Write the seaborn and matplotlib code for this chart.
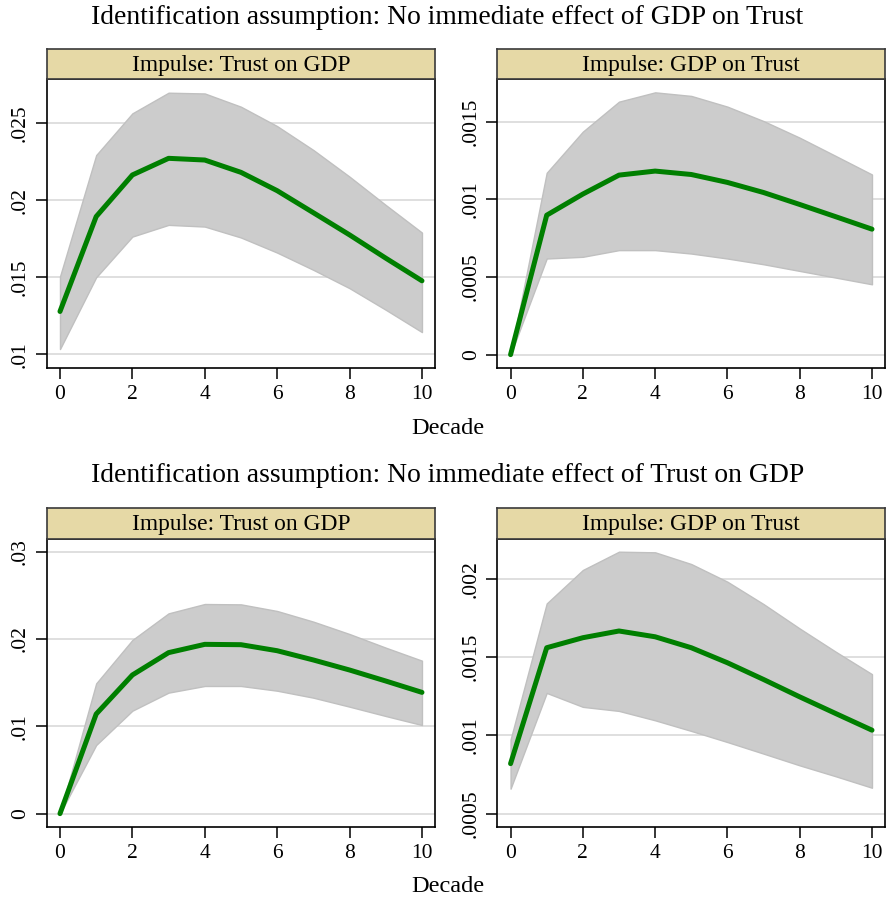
import numpy as np
import pandas as pd
import matplotlib
matplotlib.use("Agg")
import matplotlib.pyplot as plt
import seaborn as sns

sns.set_style("white")
plt.rcParams['font.family'] = ['Liberation Serif', 'DejaVu Serif']
plt.rcParams['text.color'] = 'black'
plt.rcParams['axes.labelcolor'] = 'black'
plt.rcParams['xtick.color'] = 'black'
plt.rcParams['ytick.color'] = 'black'

decade = list(range(11))

# Top row: No immediate effect of GDP on Trust
p1_irf = [0.01279, 0.01895, 0.02165, 0.02273, 0.02262, 0.02182, 0.02063, 0.01920, 0.01776, 0.01625, 0.01478]
p1_hi  = [0.01506, 0.02294, 0.02565, 0.02699, 0.02694, 0.02608, 0.02482, 0.02327, 0.02154, 0.01970, 0.01791]
p1_lo  = [0.01035, 0.01501, 0.01765, 0.01841, 0.01830, 0.01759, 0.01661, 0.01549, 0.01430, 0.01290, 0.01145]

p2_irf = [0.0, 0.000898, 0.001034, 0.001156, 0.001182, 0.001160, 0.001109, 0.001044, 0.000967, 0.000888, 0.000808]
p2_hi  = [0.0, 0.001171, 0.001436, 0.001629, 0.001689, 0.001666, 0.001597, 0.001504, 0.001397, 0.001279, 0.001160]
p2_lo  = [0.0, 0.000619, 0.000630, 0.000673, 0.000673, 0.000651, 0.000619, 0.000582, 0.000539, 0.000496, 0.000453]

# Bottom row: No immediate effect of Trust on GDP
p3_irf = [0.0, 0.01141, 0.01588, 0.01844, 0.01939, 0.01935, 0.01866, 0.01760, 0.01645, 0.01519, 0.01389]
p3_hi  = [0.0, 0.01492, 0.01989, 0.02294, 0.02401, 0.02397, 0.02321, 0.02199, 0.02057, 0.01901, 0.01752]
p3_lo  = [0.0, 0.00786, 0.01179, 0.01386, 0.01462, 0.01462, 0.01408, 0.01328, 0.01225, 0.01118, 0.01015]

p4_irf = [0.000820, 0.001561, 0.001625, 0.001668, 0.001631, 0.001561, 0.001465, 0.001358, 0.001247, 0.001140, 0.001034]
p4_hi  = [0.000974, 0.001844, 0.002058, 0.002175, 0.002171, 0.002096, 0.001983, 0.001840, 0.001684, 0.001535, 0.001392]
p4_lo  = [0.000660, 0.001272, 0.001183, 0.001157, 0.001097, 0.001029, 0.000958, 0.000884, 0.000809, 0.000739, 0.000666]

row_titles = ["Identification assumption: No immediate effect of GDP on Trust",
              "Identification assumption: No immediate effect of Trust on GDP"]
panel_titles = ["Impulse: Trust on GDP", "Impulse: GDP on Trust"]
xticks = [0, 2, 4, 6, 8, 10]

y_ticks = [
    ([0.01, 0.015, 0.02, 0.025], ['.01', '.015', '.02', '.025']),
    ([0.0, 0.0005, 0.001, 0.0015], ['0', '.0005', '.001', '.0015']),
    ([0.0, 0.01, 0.02, 0.03], ['0', '.01', '.02', '.03']),
    ([0.0005, 0.001, 0.0015, 0.002], ['.0005', '.001', '.0015', '.002']),
]
y_lims = [(0.00912, 0.02786), (-0.000086, 0.001773), (-0.00153, 0.03149), (0.000415, 0.002258)]

series = [(p1_irf, p1_lo, p1_hi), (p2_irf, p2_lo, p2_hi), (p3_irf, p3_lo, p3_hi), (p4_irf, p4_lo, p4_hi)]

W, H = 886, 900
fig = plt.figure(figsize=(W / 100, H / 100), dpi=100)

def fx(px):
    return px / W

def fy(py):
    return 1 - py / H

lefts = [46.7, 497.3]
widths = [388.3, 387.7]
plot_tops = [79.3, 538.7]
plot_bots = [368.0, 827.0]
head_tops = [49.3, 508.3]

green = "#007f00"
band = "#cccccc"
band_edge = "#c0c0c0"
strip = "#e6d9a6"

for r in range(2):
    for c in range(2):
        i = r * 2 + c
        irf, lo, hi = series[i]
        df = pd.DataFrame({"Decade": decade, "irf": irf, "lo": lo, "hi": hi})
        ax = fig.add_axes([fx(lefts[c]), fy(plot_bots[r]), fx(widths[c]),
                           (plot_bots[r] - plot_tops[r]) / H])
        ax.set_axisbelow(True)
        ax.fill_between(df["Decade"], df["lo"], df["hi"], facecolor=band,
                        edgecolor=band_edge, linewidth=1.0, zorder=2)
        sns.lineplot(data=df, x="Decade", y="irf", ax=ax, color=green,
                     linewidth=3.6, zorder=3)
        ax.set_xlim(-0.367, 10.36)
        ax.set_ylim(*y_lims[i])
        ax.set_xticks(xticks)
        ax.set_xticklabels([str(t) for t in xticks])
        ax.set_yticks(y_ticks[i][0])
        ax.set_yticklabels(y_ticks[i][1], rotation=90, va='center')
        ax.set_xlabel("")
        ax.set_ylabel("")
        ax.yaxis.grid(True, color="#dcdcdc", linewidth=1.3)
        ax.xaxis.grid(False)
        ax.tick_params(axis='both', which='both', direction='out', length=8,
                       width=1.1, color='black', labelcolor='black',
                       labelsize=15.5, pad=4, left=True, bottom=True)
        for sp in ax.spines.values():
            sp.set_visible(True)
            sp.set_color('black')
            sp.set_linewidth(1.2)
        # strip header
        hax = fig.add_axes([fx(lefts[c]), fy(plot_tops[r]), fx(widths[c]),
                            (plot_tops[r] - head_tops[r]) / H])
        hax.set_facecolor(strip)
        hax.set_xticks([])
        hax.set_yticks([])
        for sp in hax.spines.values():
            sp.set_visible(True)
            sp.set_color('#3a3a3a')
            sp.set_linewidth(1.2)
        hax.text(0.5, 0.47, panel_titles[c], ha='center', va='center',
                 fontsize=16.9, color='black', transform=hax.transAxes)

fig.text(fx(447.5), fy(17), row_titles[0], ha='center', va='center', fontsize=19.9, color='black')
fig.text(fx(447.5), fy(476), row_titles[1], ha='center', va='center', fontsize=19.9, color='black')
fig.text(fx(447.5), fy(429), "Decade", ha='center', va='center', fontsize=17.6, color='black')
fig.text(fx(447.5), fy(886), "Decade", ha='center', va='center', fontsize=17.6, color='black')

fig.savefig("out.png", dpi=100, facecolor="white")
